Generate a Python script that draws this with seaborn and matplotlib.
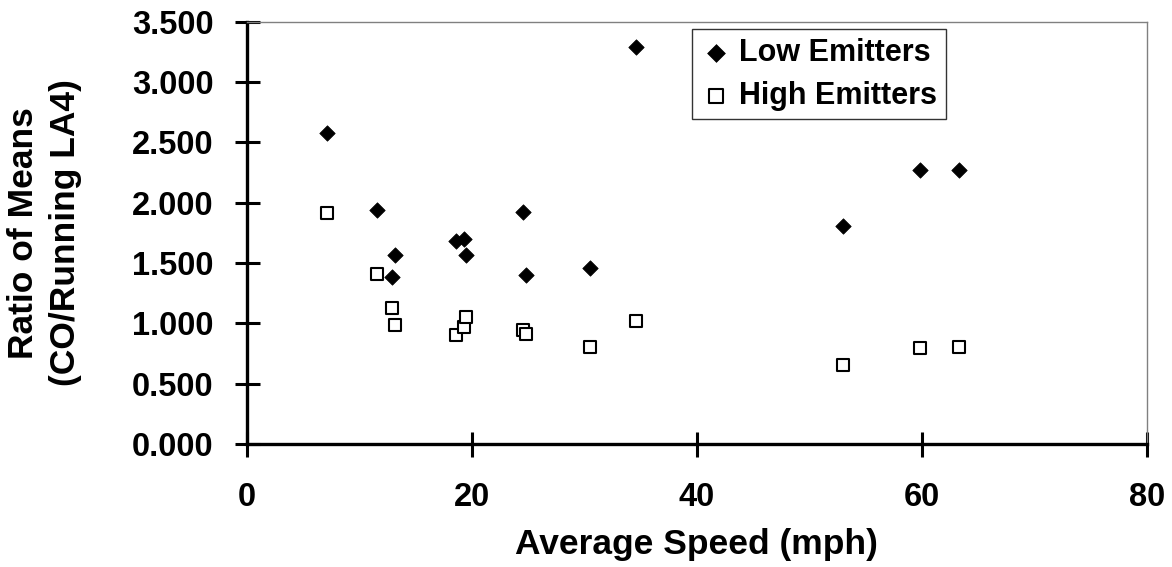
import matplotlib
matplotlib.use("Agg")
import matplotlib.pyplot as plt
import seaborn as sns
import pandas as pd

# Data
speed = [7.1, 11.6, 12.9, 13.2, 18.6, 19.3, 19.5, 24.6, 24.8, 30.5, 34.6, 53.0, 59.8, 63.3]
low_emitters = [2.575, 1.940, 1.381, 1.567, 1.686, 1.700, 1.567, 1.926, 1.398, 1.456, 3.289, 1.804, 2.272, 2.272]
high_emitters = [1.912, 1.412, 1.128, 0.989, 0.901, 0.973, 1.050, 0.945, 0.912, 0.801, 1.017, 0.655, 0.793, 0.807]
y_ticks = [0.0, 0.5, 1.0, 1.5, 2.0, 2.5, 3.0, 3.5]
x_ticks = [0, 20, 40, 60, 80]

sns.set_theme(style="white")
plt.rcParams['font.family'] = ['Liberation Sans', 'DejaVu Sans']
plt.rcParams['font.weight'] = 'bold'
for k in ['text.color', 'axes.labelcolor', 'xtick.color', 'ytick.color']:
    plt.rcParams[k] = 'black'

df_low = pd.DataFrame({"speed": speed, "ratio": low_emitters})
df_high = pd.DataFrame({"speed": speed, "ratio": high_emitters})

fig = plt.figure(figsize=(11.72, 5.67), dpi=100)
ax = fig.add_axes([0.2105, 0.2169, 0.768, 0.7448])

sns.scatterplot(data=df_low, x="speed", y="ratio", ax=ax, marker="D", s=62,
                color="black", edgecolor="black", linewidth=0.5, label="Low Emitters", zorder=3)
sns.scatterplot(data=df_high, x="speed", y="ratio", ax=ax, marker="s", s=76,
                facecolor="white", edgecolor="black", linewidth=1.5, label="High Emitters", zorder=3)

ax.set_xlim(0, 80)
ax.set_ylim(0, 3.5)
ax.set_xticks(x_ticks)
ax.set_yticks(y_ticks)
ax.set_xticklabels([f"{v:d}" for v in x_ticks])
ax.set_yticklabels([f"{v:.3f}" for v in y_ticks])

for side in ["left", "bottom"]:
    ax.spines[side].set_color("black")
    ax.spines[side].set_linewidth(2.4)
for side in ["top", "right"]:
    ax.spines[side].set_visible(True)
    ax.spines[side].set_color("#808080")
    ax.spines[side].set_linewidth(1.0)

ax.tick_params(axis="both", direction="inout", length=18, width=2.2, colors="black",
               labelsize=23.5, left=True, bottom=True)
ax.tick_params(axis="y", pad=15)
ax.tick_params(axis="x", pad=18)
for lab in ax.get_xticklabels() + ax.get_yticklabels():
    lab.set_fontweight("bold")

ax.set_xlabel("Average Speed (mph)", fontsize=25.5, fontweight="bold", labelpad=11)
ax.set_ylabel("Ratio of Means\n(CO/Running LA4)", fontsize=25.5, fontweight="bold",
              labelpad=36, linespacing=1.35)

leg = ax.legend(loc="upper left", bbox_to_anchor=(0.495, 0.982), frameon=True,
                fancybox=False, shadow=False, handletextpad=0.25,
                borderpad=0.28, labelspacing=0.42, handlelength=1.0, markerscale=1.15,
                borderaxespad=0, prop={"weight": "bold", "size": 22})
leg.get_frame().set_edgecolor("black")
leg.get_frame().set_linewidth(1.0)
for t in leg.get_texts():
    t.set_color("black")

fig.savefig("out.png", dpi=100)
